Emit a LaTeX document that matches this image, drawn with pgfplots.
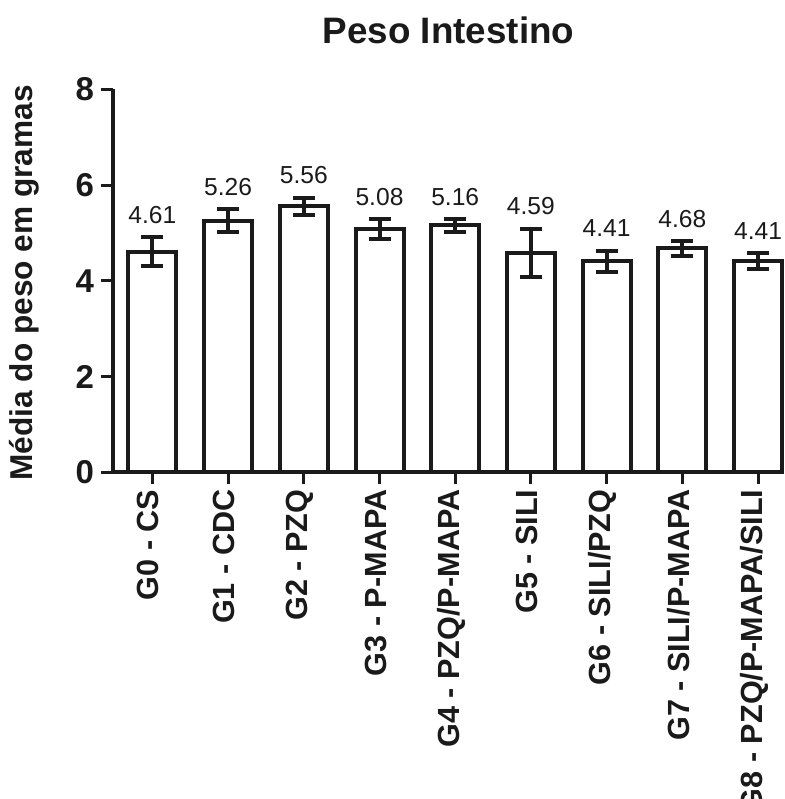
\documentclass[border=0pt]{standalone}
\usepackage{fontspec}
\setmainfont{Liberation Sans}
\usepackage{pgfplots}
\usepackage{pgfplotstable}
\pgfplotsset{compat=1.18}
\definecolor{ink}{RGB}{26,26,26}

\pgfplotstableread{
x y e lab
0 4.61 0.30 4.61
1 5.26 0.24 5.26
2 5.56 0.18 5.56
3 5.08 0.21 5.08
4 5.16 0.13 5.16
5 4.59 0.50 4.59
6 4.41 0.22 4.41
7 4.68 0.15 4.68
8 4.41 0.17 4.41
}\datatable

\begin{document}
\begin{tikzpicture}
\begin{axis}[
  scale only axis, width=335.5pt, height=191.6pt,
  xmin=-0.52, xmax=8.343, ymin=0, ymax=8,
  axis x line=bottom, axis y line=left,
  axis line style={-, line width=2pt, ink},
  ytick={0,2,4,6,8}, xtick={0,...,8},
  xticklabels={G0 - CS, G1 - CDC, G2 - PZQ, G3 - P-MAPA, G4 - PZQ/P-MAPA, G5 - SILI, G6 - SILI/PZQ, G7 - SILI/P-MAPA, G8 - PZQ/P-MAPA/SILI},
  tick align=outside, major tick length=6pt,
  tick style={line width=1.5pt, ink},
  yticklabel style={font=\bfseries\fontsize{16.5}{18}\selectfont, text=ink},
  xticklabel style={rotate=90, anchor=east, xshift=1pt, yshift=2pt, font=\bfseries\fontsize{15.3}{17}\selectfont, text=ink},
  /pgf/number format/assume math mode=true,
  clip=false,
]
\addplot[ybar, bar width=24pt, bar shift=0pt, draw=ink, fill=white, line width=2pt] table[x=x, y=y]{\datatable};
\addplot[draw=none, mark=none, forget plot,
  error bars/.cd, y dir=both, y explicit,
  error bar style={draw=ink, line width=2pt},
  error mark options={draw=ink, line width=2pt, mark size=5.5pt, rotate=90}]
  table[x=x, y=y, y error=e]{\datatable};
\addplot[draw=none, mark=none, nodes near coords, point meta=explicit symbolic,
  nodes near coords style={anchor=base, yshift=7pt, font=\fontsize{12.3}{14}\selectfont, text=ink}]
  table[x=x, y expr=\thisrow{y}+\thisrow{e}, meta=lab]{\datatable};
\node[font=\bfseries\fontsize{18.4}{22}\selectfont, text=ink, anchor=base, yshift=23pt] at (rel axis cs:0.5,1) {Peso Intestino};
\node[xshift=-40pt, yshift=-1pt, rotate=90, anchor=base, font=\bfseries\fontsize{15.8}{18}\selectfont, text=ink] at (rel axis cs:0,0.5) {Média do peso em gramas};
\end{axis}
\pgfresetboundingbox
\path[use as bounding box] ([shift={(-56.5pt,-163.25pt)}]current axis.south west) rectangle ([shift={(0pt,44.65pt)}]current axis.north east);
\end{tikzpicture}
\end{document}
